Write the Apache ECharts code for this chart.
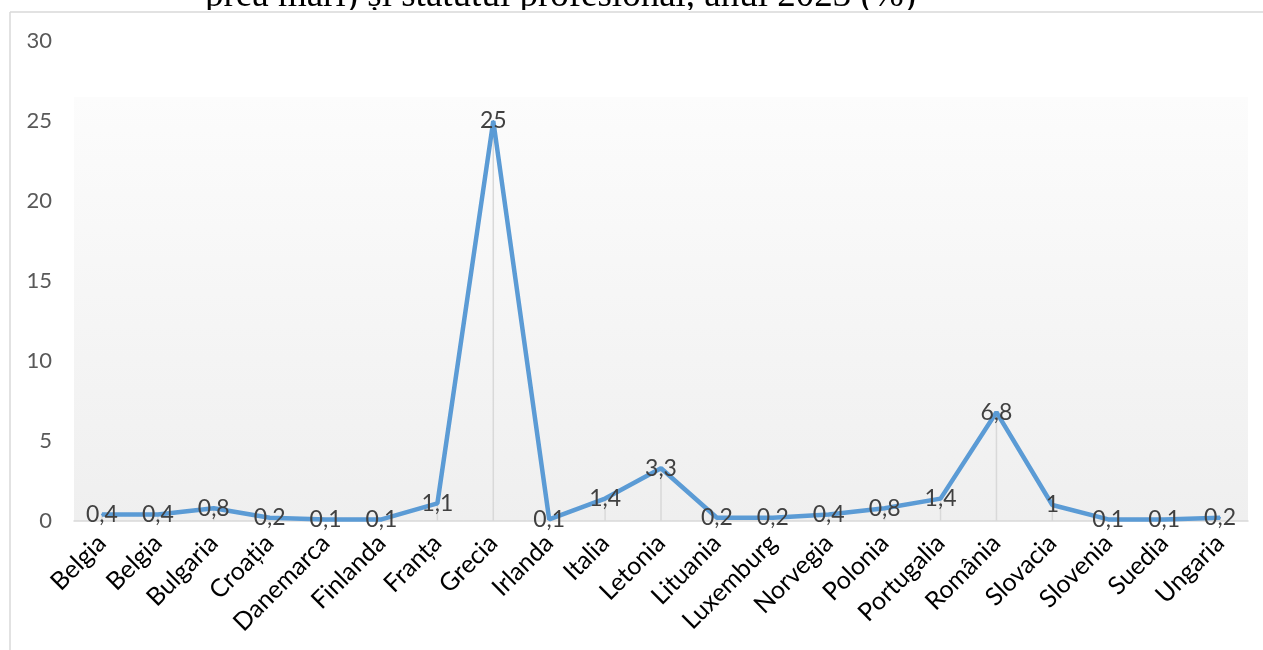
<!DOCTYPE html>
<html>
<head>
<meta charset="utf-8">
<script src="https://cdn.jsdelivr.net/npm/echarts@6/dist/echarts.min.js"></script>
<style>
    html, body { margin: 0; padding: 0; background: #fff; }
    #fig_line { width: 1263px; height: 650px; }
</style>
</head>
<body>
<div id="fig_line"></div>
<script>
var countries = ['Belgia', 'Belgia', 'Bulgaria', 'Croația', 'Danemarca', 'Finlanda', 'Franța',
    'Grecia', 'Irlanda', 'Italia', 'Letonia', 'Lituania', 'Luxemburg', 'Norvegia', 'Polonia',
    'Portugalia', 'România', 'Slovacia', 'Slovenia', 'Suedia', 'Ungaria'];
var values = [0.4, 0.4, 0.8, 0.2, 0.1, 0.1, 1.1, 25, 0.1, 1.4, 3.3, 0.2, 0.2, 0.4, 0.8,
    1.4, 6.8, 1, 0.1, 0.1, 0.2];
var yTicks = [0, 5, 10, 15, 20, 25, 30];
var titleText = 'prea mari) și statutul profesional, anul 2023 (%)';

var fig_line = {
    plot_id: 'fig_line',
    plot_chart: null,

    init: function() {
        var font = 'Lato, "Liberation Sans", sans-serif';

        this.option = {
            animation: false,
            grid: {
                top: 41,
                left: 74,
                right: 15,
                bottom: 129
            },
            graphic: [
                {
                    type: 'text',
                    z: -10,
                    style: {
                        x: 205,
                        y: -4,
                        text: titleText,
                        font: '37px "Liberation Serif", "Times New Roman", serif',
                        fill: '#000',
                        verticalAlign: 'middle'
                    }
                },
                {
                    type: 'rect',
                    z: -9,
                    shape: { x: 0, y: 10, width: 1263, height: 640 },
                    style: { fill: '#fff' }
                },
                {
                    type: 'line',
                    z: -8,
                    shape: { x1: 10, y1: 12, x2: 1263, y2: 12 },
                    style: { stroke: '#d9d9d9', lineWidth: 1.5 }
                },
                {
                    type: 'line',
                    z: -8,
                    shape: { x1: 10, y1: 12, x2: 10, y2: 650 },
                    style: { stroke: '#d9d9d9', lineWidth: 1.5 }
                }
            ],
            xAxis: {
                type: 'category',
                data: countries,
                boundaryGap: true,
                axisLine: { lineStyle: { color: '#d9d9d9', width: 1.5 } },
                axisTick: { show: false },
                axisLabel: {
                    rotate: 45,
                    interval: 0,
                    margin: 18,
                    color: '#000',
                    fontSize: 25,
                    fontFamily: font
                }
            },
            yAxis: {
                type: 'value',
                min: yTicks[0],
                max: yTicks[yTicks.length - 1],
                interval: 5,
                axisLine: { show: false },
                axisTick: { show: false },
                splitLine: { show: false },
                axisLabel: {
                    margin: 22,
                    color: '#595959',
                    fontSize: 22,
                    fontFamily: font
                }
            },
            series: [
                {
                    // drop lines
                    type: 'bar',
                    data: values,
                    barWidth: 1.5,
                    z: 1,
                    itemStyle: { color: '#d9d9d9' },
                    silent: true
                },
                {
                    type: 'line',
                    data: values,
                    z: 3,
                    symbol: 'circle',
                    symbolSize: 2,
                    lineStyle: { color: '#5b9bd5', width: 4.5 },
                    itemStyle: { color: '#5b9bd5' },
                    label: {
                        show: true,
                        position: 'inside',
                        color: '#404040',
                        fontSize: 23,
                        fontFamily: font,
                        formatter: function(p) {
                            return String(p.value).replace('.', ',');
                        }
                    },
                    markArea: {
                        silent: true,
                        z: 0,
                        itemStyle: {
                            color: {
                                type: 'linear', x: 0, y: 0, x2: 0, y2: 1,
                                colorStops: [
                                    { offset: 0, color: '#fcfcfc' },
                                    { offset: 1, color: '#efefef' }
                                ]
                            }
                        },
                        data: [[{ yAxis: 26.5 }, { yAxis: 0 }]]
                    }
                }
            ]
        };

        this.plot_chart = echarts.init(document.getElementById(this.plot_id));
        this.plot_chart.setOption(this.option);
    }
};

fig_line.init();
</script>
</body>
</html>
